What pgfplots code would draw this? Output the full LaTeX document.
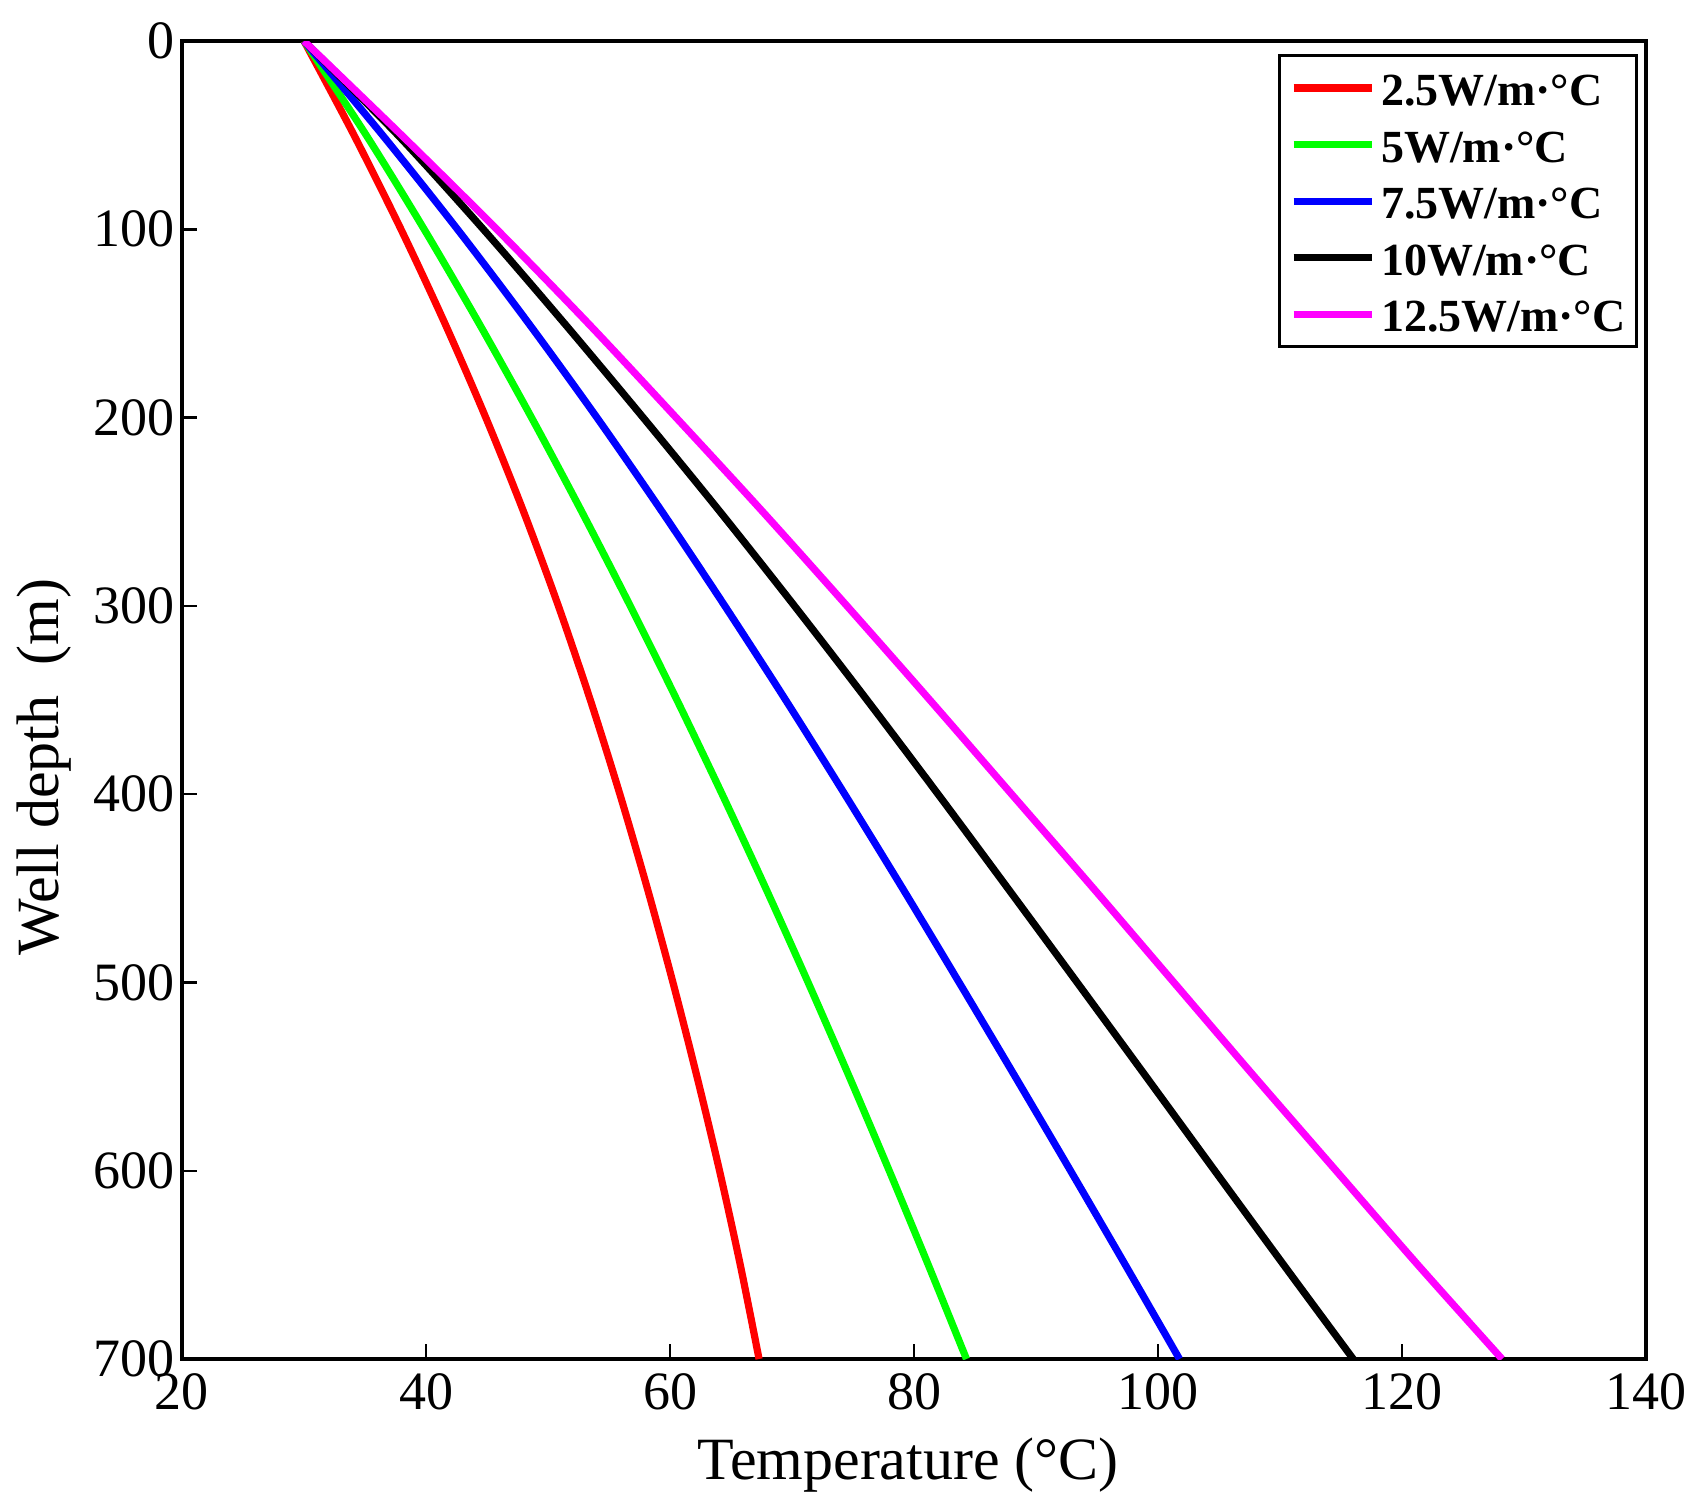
\documentclass[border=0pt]{standalone}
\usepackage{pgfplots}
\pgfplotsset{compat=1.18}
\usepackage{fontspec}
\setmainfont{Liberation Serif}
\definecolor{mred}{RGB}{255,0,0}
\definecolor{mgreen}{RGB}{0,255,0}
\definecolor{mblue}{RGB}{0,0,255}
\definecolor{mmag}{RGB}{255,0,255}
\pgfplotsset{legend image code/.code={\draw[#1,line cap=butt] (0pt,0pt) -- (19.5pt,0pt);}}
\begin{document}
\begin{tikzpicture}
\useasboundingbox (-45.5pt,-36.75pt) rectangle (379.75pt,339.75pt);
\begin{axis}[
  at={(0pt,0pt)}, anchor=south west,
  scale only axis, width=366pt, height=329.5pt,
  xmin=20, xmax=140, ymin=0, ymax=700,
  y dir=reverse,
  xtick={20,40,60,80,100,120,140},
  ytick={0,100,200,300,400,500,600,700},
  tick align=inside,
  xtick pos=left,
  ytick pos=left,
  major tick length=3.75pt,
  axis line style={line width=0.8pt},
  every tick/.style={black, line width=0.6pt},
  /pgf/number format/assume math mode=true,
  tick label style={font=\fontsize{13.5}{15}\selectfont},
  yticklabel style={xshift=1.75pt},
  xlabel={Temperature (°C)},
  ylabel={Well depth\ \ (m)},
  label style={font=\fontsize{15}{18}\selectfont},
  xlabel style={at={(axis description cs:0.496,-0.0918)}, anchor=base},
  ylabel style={at={(axis description cs:-0.094,0.449)}, anchor=center},
  legend cell align=left,
  legend style={at={(axis description cs:0.9945,0.990)}, anchor=north east,
    draw=black, line width=0.8pt, inner xsep=2.7pt, inner ysep=3pt,
    font=\bfseries\fontsize{11.5}{13}\selectfont,
    nodes={inner sep=0pt, text height=9.4pt, text depth=0.7pt},
    row sep=4.05pt, column sep=1.45pt},
]
\addplot[mred, line width=1.8pt, smooth] coordinates {
(30,0) (34.1,50) (37.95,100) (41.55,150) (44.9,200) (48.0,250) (50.85,300) (53.47,350)
(55.89,400) (58.14,450) (60.24,500) (62.21,550) (64.06,600) (65.76,650) (67.3,700)};
\addlegendentry{2.5W/m·°C}
\addplot[mgreen, line width=1.8pt, smooth] coordinates {
(30,0) (35.1,50) (39.85,100) (44.35,150) (48.65,200) (52.77,250) (56.74,300) (60.57,350)
(64.27,400) (67.85,450) (71.32,500) (74.69,550) (77.97,600) (81.17,650) (84.3,700)};
\addlegendentry{5W/m·°C}
\addplot[mblue, line width=1.8pt, smooth] coordinates {
(30,0) (36.44,50) (42.58,100) (48.42,150) (54.01,200) (59.35,250) (64.49,300) (69.48,350)
(74.32,400) (79.06,450) (83.70,500) (88.29,550) (92.83,600) (97.32,650) (101.76,700)};
\addlegendentry{7.5W/m·°C}
\addplot[black, line width=1.8pt, smooth] coordinates {
(30,0) (37.7,50) (44.7,100) (51.35,150) (57.8,200) (64.1,250) (70.2,300) (76.15,350)
(81.97,400) (87.69,450) (93.37,500) (99.02,550) (104.65,600) (110.3,650) (116.0,700)};
\addlegendentry{10W/m·°C}
\addplot[mmag, line width=1.8pt, smooth] coordinates {
(30,0) (38.0,50) (45.8,100) (53.3,150) (60.5,200) (67.6,250) (74.5,300) (81.3,350)
(88.0,400) (94.7,450) (101.3,500) (107.9,550) (114.6,600) (121.3,650) (128.2,700)};
\addlegendentry{12.5W/m·°C}
\end{axis}
\end{tikzpicture}
\end{document}
